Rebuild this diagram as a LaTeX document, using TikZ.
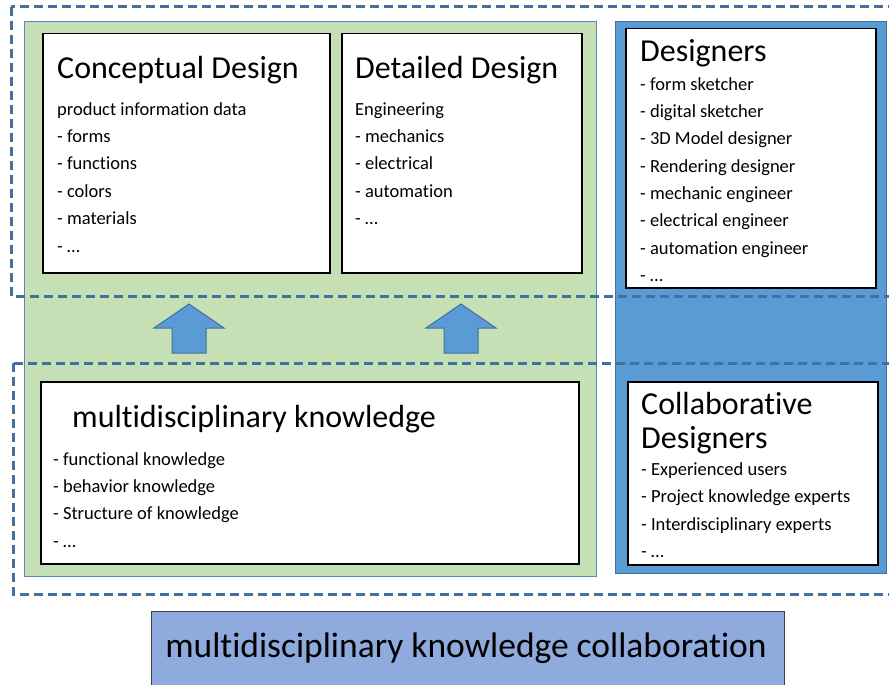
\documentclass[tikz,border=0pt]{standalone}
\usepackage{fontspec}
\setmainfont{Carlito}[Ligatures=NoCommon]
\usepackage{tikz}

\definecolor{dashblue}{HTML}{41719C}
\definecolor{greenfill}{HTML}{C5E0B4}
\definecolor{bluefill}{HTML}{5B9BD5}
\definecolor{edgeblue}{HTML}{5A86BE}
\definecolor{bandblue}{HTML}{8FAADC}

\begin{document}
\begin{tikzpicture}[
  x=1pt, y=-1pt,
  panel/.style={rectangle, draw=black, line width=1.5pt, fill=white, anchor=north west, inner sep=0pt},
  title/.style={anchor=base west, inner sep=0pt, font=\fontsize{32}{34}\selectfont},
  items/.style={anchor=base west, inner sep=0pt, font=\fontsize{18.5}{27.4}\selectfont},
  zone/.style={draw=dashblue, line width=3pt, dash pattern=on 9pt off 5pt},
  blockarrow/.style={fill=bluefill, draw=dashblue, line width=1pt, line join=miter},
]
  \clip (0,0) rectangle (889,685);

  % Background areas
  \fill[greenfill, draw=edgeblue, line width=1pt] (24,22) rectangle (596,576);
  \fill[bluefill, draw=dashblue, line width=1pt] (615,22) rectangle (886,573);

  % Up arrows
  \foreach \cx in {189,461}
    \draw[blockarrow] (\cx,304) -- ++(35,24) -- ++(-18,0) -- ++(0,25)
      -- ++(-34,0) -- ++(0,-25) -- ++(-18,0) -- cycle;

  % Conceptual Design
  \node[panel, minimum width=287pt, minimum height=239pt] (concept) at (42,33) {};
  \node[title] (concepttitle) at (57,78) {Conceptual Design};
  \node[items] (conceptlist) at (57,115) {\parbox[t]{260pt}{product information data\\
    - forms\\- functions\\- colors\\- materials\\- …}};

  % Detailed Design
  \node[panel, minimum width=240pt, minimum height=239pt] (detail) at (341,33) {};
  \node[title] (detailtitle) at (355,78) {Detailed Design};
  \node[items] (detaillist) at (355,115) {\parbox[t]{220pt}{Engineering\\
    - mechanics\\- electrical\\- automation\\- …}};

  % Designers
  \node[panel, minimum width=250pt, minimum height=259pt] (designers) at (625,28) {};
  \node[title] (designerstitle) at (640,62) {Designers};
  \node[items] (designerslist) at (640,90) {\parbox[t]{230pt}{- form sketcher\\
    - digital sketcher\\- 3D Model designer\\- Rendering designer\\
    - mechanic engineer\\- electrical engineer\\- automation engineer\\- …}};

  % multidisciplinary knowledge
  \node[panel, minimum width=538pt, minimum height=182pt] (knowledge) at (40,381) {};
  \node[title] (knowledgetitle) at (72,427) {multidisciplinary knowledge};
  \node[items] (knowledgelist) at (53,465) {\parbox[t]{400pt}{- functional knowledge\\
    - behavior knowledge\\- Structure of knowledge\\- …}};

  % Collaborative Designers
  \node[panel, minimum width=250pt, minimum height=183pt] (collab) at (627,381) {};
  \node[title] (collabtitle) at (641,414) {\parbox[t]{230pt}{Collaborative\\Designers}};
  \node[items] (collablist) at (641,475.5) {\parbox[t]{230pt}{- Experienced users\\
    - Project knowledge experts\\- Interdisciplinary experts\\- …}};

  % Dashed zones
  \draw[zone] (11,7) rectangle (900,296);
  \draw[zone] (13,363) rectangle (900,594);

  % Bottom band
  \node[rectangle, draw=black!75, line width=1pt, fill=bandblue, anchor=north west,
    minimum width=633pt, minimum height=90pt, inner sep=0pt] (band) at (151,611) {};
  \node[anchor=base, inner sep=0pt, font=\fontsize{35.5}{38}\selectfont] (bandtext) at (466,657)
    {multidisciplinary knowledge collaboration};
\end{tikzpicture}
\end{document}
